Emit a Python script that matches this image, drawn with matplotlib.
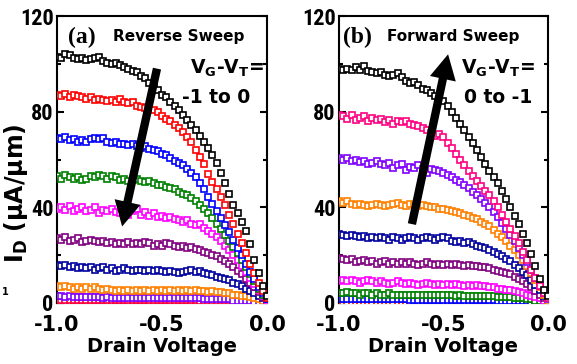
import numpy as np
import matplotlib
matplotlib.use('Agg')
import matplotlib.pyplot as plt
from matplotlib import font_manager
from matplotlib.patches import FancyArrowPatch

# drain voltage sweep, 0.02 V steps
vd = np.round(np.linspace(-1.0, 0.0, 51), 2)

# ---- (a) reverse sweep, I_D in uA/um ----
rev_black = [103, 102.5, 104, 103.5, 102.5, 102, 102.5, 101.5, 102, 102.5, 103, 101, 100.5, 100, 100.5, 99.5, 98.5,
             98, 97, 96.5, 95, 94, 92, 90.5, 89, 87, 86, 84, 82.5, 80.5, 78.5, 76.5, 74.5, 72.5,
             70, 67.5, 65, 62, 58.5, 54.5, 50, 45.5, 41, 37.5, 34, 30, 24.5, 18, 12.5, 7, 3]
rev_red = [87, 86.5, 87.5, 86, 87, 86.5, 86, 85.5, 86, 85, 85.5, 85, 84.5, 85, 84, 85.5, 84,
           83.5, 84, 82.5, 82, 81.5, 81, 80.5, 80, 78, 77, 76, 74.5, 73, 71.5, 69.5, 67.5, 64,
           61, 58, 54, 50.5, 47.5, 44.5, 41, 37, 33, 29, 25, 21, 16.5, 12.5, 8.5, 5, 2]
rev_blue = [69, 68.5, 69.5, 68, 68.5, 67.5, 68, 67.5, 68.5, 69, 68.5, 69, 67.5, 67, 67.5, 66.5, 66.5,
            66, 66.5, 65.5, 65, 65.5, 64.5, 64, 63.5, 62.5, 62, 60.5, 59.5, 58.5, 57.5, 56, 54.5, 52.5,
            50, 47.5, 44.5, 41.5, 38.5, 35.5, 32.5, 29.5, 26.5, 23, 20, 16.5, 13, 10, 6.5, 4, 1.5]
rev_green = [53, 52, 53.5, 52.5, 52, 52.5, 51.5, 52, 53, 52.5, 53.5, 53, 52, 53, 52.5, 51.5, 52,
             51, 51.5, 52, 51, 50.5, 51, 50, 49.5, 49.5, 48.5, 48, 47.5, 46.5, 45.5, 45, 44, 42.5,
             41, 39.5, 37.5, 35.5, 33, 31, 28.5, 26, 23.5, 21, 18, 15, 12, 9, 6, 3.5, 1.5]
rev_magenta = [39.5, 40, 39, 40.5, 38.5, 39.5, 40, 38.5, 39, 40, 37.5, 39, 38.5, 39.5, 38, 37.5, 39,
               37, 38.5, 39.5, 37, 38, 36.5, 37.5, 36, 36.5, 35.5, 36, 35, 34.5, 34, 34.5, 33, 32.5,
               33, 31.5, 30, 29, 27.5, 26, 24, 22, 20, 18, 15.5, 13, 10.5, 8, 5.5, 3, 1]
rev_purple = [27, 26.5, 27.5, 26, 26.5, 27, 25.5, 26, 26.5, 26, 25.5, 26, 25, 25.5, 24.5, 25, 24.5,
              25.5, 24.5, 25, 24.5, 25.5, 25, 24, 24.5, 24, 25, 24.5, 24, 23.5, 24, 23, 23.5, 22.5,
              22, 21.5, 21, 20, 19.5, 18.5, 17.5, 16.5, 15, 13.5, 12, 10, 8.5, 6.5, 4.5, 2.5, 1]
rev_navy = [16, 15.5, 16, 15, 15.5, 14.5, 15, 14.5, 15, 14, 14.5, 15, 14, 14.5, 13.5, 14, 14.5,
            14, 13.5, 14, 14, 13.5, 14, 13.5, 14, 13.5, 13, 13.5, 13, 12.5, 13, 13.5, 14, 13,
            13.5, 12.5, 12, 11.5, 11, 10.5, 10, 9.5, 8.5, 8, 7, 6, 5, 4, 3, 2, 1]
rev_orange = [7, 6.5, 7, 6.5, 6, 6.5, 6, 6.5, 6, 6.5, 6, 5.5, 6, 5.5, 5, 5.5, 5,
              5.5, 5, 5.5, 5, 5.5, 5, 5.5, 5, 5.5, 5, 5.5, 5, 5.5, 5, 5.5, 5, 5.5,
              5, 5, 4.5, 5, 4.5, 4.5, 4, 4, 3.5, 3.5, 3, 3, 2.5, 2, 1.5, 1, 0.5]
rev_violet = [3, 3, 2.5, 3, 2.5, 2.5, 2.5, 2.5, 2.5, 2.5, 2.5, 2, 2.5, 2, 2, 2, 2,
              2, 2, 2, 2, 2, 2, 2, 2, 2, 2, 2, 2, 2, 2, 2, 2, 2,
              2, 1.5, 1.5, 1.5, 1.5, 1.5, 1.5, 1.5, 1, 1, 1, 1, 1, 0.5, 0.5, 0.5, 0.5]
rev_low = [1.2, 1.2, 1.2, 1.2, 1.2, 1.2, 1.2, 1.2, 1.2, 1.2, 1.2, 1.2, 1.2, 1.2, 1.2, 1.2, 1.2,
           1.1, 1.1, 1.1, 1.1, 1.1, 1.1, 1.1, 1.1, 1.1, 1.1, 1.1, 1.1, 1.1, 1.1, 1.1, 1.1, 1.1,
           1, 1, 1, 1, 1, 1, 0.9, 0.9, 0.8, 0.8, 0.7, 0.6, 0.5, 0.4, 0.3, 0.3, 0.2]
rev_zero = [0.3, 0.3, 0.3, 0.3, 0.3, 0.3, 0.3, 0.3, 0.3, 0.3, 0.3, 0.3, 0.3, 0.3, 0.3, 0.3, 0.3,
            0.3, 0.3, 0.3, 0.3, 0.3, 0.3, 0.3, 0.3, 0.3, 0.3, 0.3, 0.3, 0.3, 0.3, 0.3, 0.3, 0.3,
            0.3, 0.3, 0.3, 0.3, 0.3, 0.3, 0.3, 0.3, 0.3, 0.3, 0.3, 0.3, 0.3, 0.3, 0.3, 0.3, 0.3]

# ---- (b) forward sweep ----
fwd_black = [98, 97.5, 98, 97.5, 98.5, 97.5, 99, 97, 96.5, 96, 96.5, 95.5, 95, 95.5, 96, 94.5, 93,
             92, 92.5, 91, 89.5, 89, 88, 86.5, 85.5, 84.5, 82.5, 80, 77.5, 75, 72.5, 69.5, 67, 64,
             61, 58, 55, 52.5, 50, 47, 43.5, 40, 36.5, 33, 29, 25, 20.5, 15.5, 10, 5.5, 3]
fwd_crimson = [78.5, 78, 77, 78.5, 76.5, 77.5, 78, 76, 77.5, 76.5, 77, 75.5, 76.5, 75, 76, 75.5, 76,
               75, 74.5, 74, 73, 72.5, 71, 70, 70.5, 69.5, 67, 65, 62.5, 60, 57.5, 55, 53, 51,
               49, 47, 45, 42.5, 40, 37, 34, 31, 28, 25, 21.5, 18, 14, 10.5, 7, 4, 2]
fwd_violet = [60.5, 60, 60.5, 59.5, 60, 59, 59.5, 58, 58.5, 59.5, 58, 57.5, 58.5, 56.5, 57.5, 58, 55.5,
              57, 56.5, 57.5, 56, 54.5, 56, 55.5, 55, 54.5, 53.5, 52.5, 51.5, 50.5, 49.5, 48, 46.5, 45,
              43.5, 42, 40, 38, 36, 33.5, 31, 28.5, 26, 23, 20, 17, 14, 10.5, 7, 4, 1.5]
fwd_orange = [42.5, 42, 42.5, 41.5, 41, 41.5, 41, 40.5, 41, 41.5, 41, 40.5, 41, 41.5, 42, 41, 40.5,
              41.5, 41, 40.5, 41, 40.5, 40, 40, 39.5, 39.5, 39, 38.5, 38, 37.5, 37, 36.5, 35.5, 35,
              34, 33, 32, 30.5, 29, 27.5, 26, 24, 22, 20, 18, 15.5, 12.5, 9.5, 6.5, 3.5, 1]
fwd_navy = [29, 28.5, 28, 28.5, 28, 27.5, 28, 27, 27.5, 27, 27.5, 27, 26.5, 27.5, 27, 26.5, 27,
            27.5, 27, 26.5, 27, 27.5, 27, 26.5, 27, 27.5, 27, 26, 25.5, 26, 25, 25.5, 24.5, 24,
            23.5, 23, 22, 21.5, 20.5, 19.5, 18.5, 17.5, 16, 14.5, 13, 11.5, 9.5, 7.5, 5.5, 3, 1]
fwd_purple = [19, 18.5, 18, 18.5, 17, 17.5, 18, 17, 17.5, 16.5, 17, 17.5, 16.5, 17, 16.5, 17, 16.5,
              17, 16.5, 16, 16.5, 17, 16.5, 16, 16.5, 16, 16.5, 16, 16.5, 16, 15.5, 16, 15.5, 15.5,
              15, 15, 14.5, 14, 13.5, 13, 12.5, 12, 11, 10, 9, 8, 6.5, 5, 3.5, 2, 0.5]
fwd_magenta = [9, 9.5, 9, 9.5, 9, 8.5, 9, 9.5, 9, 8.5, 9, 8.5, 8, 8.5, 9, 8.5, 8,
               8.5, 8, 7.5, 8, 8.5, 8, 7.5, 8, 7.5, 8, 7.5, 8, 7.5, 7, 7.5, 7, 7.5,
               7, 7, 6.5, 6.5, 6, 6, 5.5, 5.5, 5, 4.5, 4, 3.5, 3, 2.5, 2, 1, 0.5]
fwd_green = [4, 4, 4.5, 4, 4, 3.5, 4, 4, 3.5, 4, 3.5, 3.5, 4, 3.5, 3.5, 3.5, 3.5,
             3.5, 3.5, 3.5, 3.5, 3.5, 3.5, 3.5, 3.5, 3.5, 3.5, 3.5, 3, 3.5, 3, 3, 3, 3,
             3, 3, 3, 3, 2.5, 2.5, 2.5, 2.5, 2, 2, 2, 1.5, 1.5, 1, 1, 0.5, 0.5]
fwd_blue = [1.5, 1.5, 1.5, 1.5, 1.5, 1.5, 1.5, 1.5, 1.5, 1.5, 1.5, 1.5, 1.5, 1.5, 1.5, 1.5, 1.5,
            1.4, 1.4, 1.4, 1.4, 1.4, 1.4, 1.4, 1.4, 1.3, 1.3, 1.3, 1.3, 1.3, 1.3, 1.3, 1.3, 1.3,
            1.2, 1.2, 1.2, 1.2, 1, 1, 1, 1, 1, 1, 0.8, 0.8, 0.6, 0.6, 0.4, 0.3, 0.2]
fwd_zero = [0.3, 0.3, 0.3, 0.3, 0.3, 0.3, 0.3, 0.3, 0.3, 0.3, 0.3, 0.3, 0.3, 0.3, 0.3, 0.3, 0.3,
            0.3, 0.3, 0.3, 0.3, 0.3, 0.3, 0.3, 0.3, 0.3, 0.3, 0.3, 0.3, 0.3, 0.3, 0.3, 0.3, 0.3,
            0.3, 0.3, 0.3, 0.3, 0.3, 0.3, 0.3, 0.3, 0.3, 0.3, 0.3, 0.3, 0.3, 0.3, 0.3, 0.3, 0.3]

# low current first so the high curves end up on top
reverse_curves = [(rev_zero, 'black'), (rev_low, '#FF0040'), (rev_violet, '#8000FF'),
                  (rev_orange, '#FF8000'), (rev_navy, '#0000A0'), (rev_purple, '#800080'),
                  (rev_magenta, '#FF00FF'), (rev_green, '#008000'), (rev_blue, '#0000FF'),
                  (rev_red, '#FF0000'), (rev_black, 'black')]
forward_curves = [(fwd_zero, '#FF0000'), (fwd_blue, '#0000FF'), (fwd_green, '#008000'),
                  (fwd_magenta, '#FF00FF'), (fwd_purple, '#800080'), (fwd_navy, '#0000A0'),
                  (fwd_orange, '#FF8000'), (fwd_violet, '#8000FF'), (fwd_crimson, '#FF0080'),
                  (fwd_black, 'black')]

# tall narrow digits on the y axis: take the first condensed face that is installed
names = {f.name for f in font_manager.fontManager.ttflist}
yfont = dict(family='DejaVu Sans', size=12, weight='bold')
for fam, size in [('Liberation Sans Narrow', 17), ('Roboto Condensed', 16), ('DejaVu Sans Condensed', 13.5)]:
    if fam in names:
        yfont = dict(family=fam, size=size, weight='bold')
        break
xfont = dict(family='DejaVu Sans', size=15, weight='bold')


def style_axes(ax):
    ax.set_xlim(-1.0, 0.0)
    ax.set_ylim(0, 120)
    ax.set_xticks([-1.0, -0.5, 0.0])
    ax.set_xticklabels(['-1.0', '-0.5', '0.0'], fontdict=xfont)
    ax.set_yticks([0, 40, 80, 120])
    ax.set_yticklabels(['0', '40', '80', '120'], fontdict=yfont)
    ax.set_yticks([20, 60, 100], minor=True)
    ax.tick_params(which='both', direction='in', left=True, right=True, width=1.5)
    ax.tick_params(which='major', length=5)
    ax.tick_params(which='minor', length=3)
    ax.tick_params(axis='x', pad=9)
    ax.tick_params(axis='y', pad=2.5)
    for s in ax.spines.values():
        s.set_linewidth(1.5)
    ax.set_xlabel('Drain Voltage', fontsize=14, fontweight='bold', labelpad=1)


def draw_curves(ax, curves):
    for vals, col in curves:
        assert len(vals) == len(vd)
        ax.plot(vd, vals, 's', ms=4.6, mfc='white', mec=col, mew=1.2, zorder=3)


fig = plt.figure(figsize=(5.77, 3.64), dpi=100)
ax_a = fig.add_axes([0.0988, 0.1676, 0.364, 0.7884])
ax_b = fig.add_axes([0.5875, 0.1676, 0.3622, 0.7884])

style_axes(ax_a)
style_axes(ax_b)
draw_curves(ax_a, reverse_curves)
draw_curves(ax_b, forward_curves)

arrow_style = 'simple,head_length=1.8,head_width=1.9,tail_width=0.6'
ax_a.add_patch(FancyArrowPatch((-0.524, 98), (-0.69, 32), arrowstyle=arrow_style, mutation_scale=10,
                               color='black', lw=0, shrinkA=0, shrinkB=0, zorder=5))
ax_b.add_patch(FancyArrowPatch((-0.651, 33), (-0.478, 104), arrowstyle=arrow_style, mutation_scale=10,
                               color='black', lw=0, shrinkA=0, shrinkB=0, zorder=5))

# panel annotations
ax_a.text(-0.95, 111, '(a)', family='Liberation Serif', fontsize=17, fontweight='bold', va='center')
ax_a.text(-0.733, 111.5, 'Reverse Sweep', fontsize=11, fontweight='bold', va='center')
ax_a.text(-0.015, 98, r'V$_\mathbf{G}$-V$_\mathbf{T}$=', fontsize=13.5, fontweight='bold',
          ha='right', va='center')
ax_a.text(-0.243, 86, '-1 to 0', fontsize=13.5, fontweight='bold', ha='center', va='center')

ax_b.text(-0.98, 111, '(b)', family='Liberation Serif', fontsize=17, fontweight='bold', va='center')
ax_b.text(-0.77, 111.5, 'Forward Sweep', fontsize=11, fontweight='bold', va='center')
ax_b.text(-0.062, 98, r'V$_\mathbf{G}$-V$_\mathbf{T}$=', fontsize=13.5, fontweight='bold',
          ha='right', va='center')
ax_b.text(-0.24, 86, '0 to -1', fontsize=13.5, fontweight='bold', ha='center', va='center')

fig.text(0.028, 0.47, r'I$_\mathbf{D}$ (μA/μm)', fontsize=17, fontweight='bold', rotation=90,
         ha='center', va='center')
fig.text(0.009, 0.198, '1', fontsize=7, fontweight='bold', ha='center', va='center')

fig.savefig('out.png', dpi=100)
